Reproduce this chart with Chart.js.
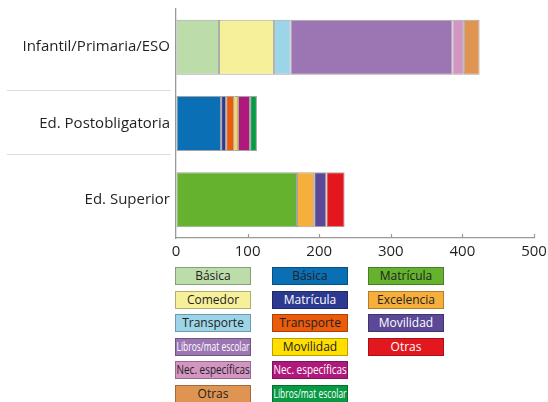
<!DOCTYPE html>
<html>
<head>
<meta charset="utf-8">
<script src="https://cdn.jsdelivr.net/npm/chart.js@4"></script>
<style>
    body { margin: 0; background: #fff; font-family: "Open Sans", sans-serif; }
    #wrap { position: relative; width: 548px; height: 402px; }
    #chartBox { position: absolute; left: 0; top: 0; width: 548px; height: 262px; }
    .key { position: absolute; width: 76px; height: 18px; box-sizing: border-box;
           border: 1px solid rgba(0,0,0,0.28); font-size: 12px; line-height: 16px;
           display: flex; justify-content: center; white-space: nowrap; }
    .key span { display: block; flex-shrink: 0; transform-origin: center center; }
</style>
</head>
<body>
<div id="wrap">
    <div id="chartBox"><canvas id="aidChart"></canvas></div>
    <div id="legend"></div>
</div>
<script>
const categories = ['Infantil/Primaria/ESO', 'Ed. Postobligatoria', 'Ed. Superior'];

const infantilLabels = ['Básica', 'Comedor', 'Transporte', 'Libros/mat escolar', 'Nec. específicas', 'Otras'];
const infantilValues = [60, 77, 23, 226, 16, 22];

const postLabels = ['Básica', 'Matrícula', 'Transporte', 'Movilidad', 'Nec. específicas', 'Libros/mat escolar'];
const postValues = [63, 7, 11.5, 5, 17, 9.5];

const superiorLabels = ['Matrícula', 'Excelencia', 'Movilidad', 'Otras'];
const superiorValues = [169, 24, 17, 25.5];

const xTicks = [0, 100, 200, 300, 400, 500];

// colours per group
const infantilColors = ['#bcdcaa', '#f7f09a', '#9dd5e8', '#9c76b3', '#d395c2', '#e09451'];
const postColors = ['#0a6fb5', '#2b3990', '#ea5b0c', '#ffde00', '#b0197c', '#089a43'];
const superiorColors = ['#65b22e', '#f7af3c', '#5b4897', '#e3181f'];
const infantilText = ['#222', '#222', '#222', '#fff', '#222', '#222'];
const postText = ['#222', '#fff', '#222', '#222', '#fff', '#fff'];
const superiorText = ['#222', '#222', '#fff', '#fff'];

const groups = [
    { labels: infantilLabels, values: infantilValues, colors: infantilColors, text: infantilText },
    { labels: postLabels, values: postValues, colors: postColors, text: postText },
    { labels: superiorLabels, values: superiorValues, colors: superiorColors, text: superiorText }
];

var datasets = [];
groups.forEach(function (g, gi) {
    g.values.forEach(function (v, i) {
        var data = categories.map(function (c, ci) { return ci === gi ? v : null; });
        datasets.push({
            label: g.labels[i],
            data: data,
            backgroundColor: g.colors[i],
            borderColor: 'rgba(90,90,90,0.55)',
            borderWidth: 1,
            borderSkipped: false
        });
    });
});

// small tick marks pointing up and separator lines in the label area
const extras = {
    id: 'extras',
    afterDraw(chart) {
        const ctx = chart.ctx;
        const x = chart.scales.x, y = chart.scales.y;
        const bottom = chart.chartArea.bottom;
        ctx.save();
        ctx.strokeStyle = '#999';
        ctx.lineWidth = 1.2;
        xTicks.forEach(function (t) {
            if (t === 0) return;
            const px = Math.round(x.getPixelForValue(t)) + 0.5;
            ctx.beginPath();
            ctx.moveTo(px, bottom);
            ctx.lineTo(px, bottom - 4);
            ctx.stroke();
        });
        const mid = y.getPixelForValue(1);
        const step = y.getPixelForValue(1) - y.getPixelForValue(0);
        ctx.strokeStyle = '#ddd';
        ctx.lineWidth = 1;
        [mid - step * 0.44, mid + step * 0.4].forEach(function (py) {
            py = Math.round(py) + 0.5;
            ctx.beginPath();
            ctx.moveTo(7, py);
            ctx.lineTo(171, py);
            ctx.stroke();
        });
        ctx.restore();
    }
};

var ctx = document.getElementById('aidChart').getContext('2d');
var aidChart = new Chart(ctx, {
    type: 'bar',
    data: { labels: categories, datasets: datasets },
    plugins: [extras],
    options: {
        indexAxis: 'y',
        responsive: true,
        maintainAspectRatio: false,
        animation: false,
        layout: { padding: { top: 9, right: 14, left: 0, bottom: 0 } },
        plugins: { legend: { display: false }, tooltip: { enabled: false } },
        datasets: { bar: { barPercentage: 0.72, categoryPercentage: 1 } },
        scales: {
            x: {
                stacked: true,
                min: 0,
                max: 500,
                afterBuildTicks: function (scale) {
                    scale.ticks = xTicks.map(function (v) { return { value: v }; });
                },
                afterFit: function (scale) {
                    scale.height = 24;
                    scale.paddingLeft = 0;
                    scale.paddingRight = 0;
                },
                grid: { drawOnChartArea: false, drawTicks: false },
                border: { display: true, color: '#999', width: 1.3 },
                ticks: { padding: 5, color: '#231f20', font: { family: 'Open Sans', size: 15 } }
            },
            y: {
                stacked: true,
                afterFit: function (scale) {
                    scale.width = 176;
                    scale.paddingTop = 0;
                    scale.paddingBottom = 0;
                },
                grid: { drawOnChartArea: false, drawTicks: false },
                border: { display: true, color: '#999', width: 1.3 },
                ticks: { padding: 6, color: '#231f20', font: { family: 'Open Sans', size: 15 } }
            }
        }
    }
});

// legend: one column per group
const legend = document.getElementById('legend');
const colLeft = [175, 272, 368];
groups.forEach(function (g, gi) {
    g.labels.forEach(function (lab, i) {
        var box = document.createElement('div');
        box.className = 'key';
        box.style.left = colLeft[gi] + 'px';
        box.style.top = (267 + i * 23.5) + 'px';
        box.style.background = g.colors[i];
        box.style.color = g.text[i];
        var span = document.createElement('span');
        span.textContent = lab;
        box.appendChild(span);
        legend.appendChild(box);
        var w = span.offsetWidth;
        if (w > 73) span.style.transform = 'scaleX(' + (73 / w) + ')';
    });
});
</script>
</body>
</html>
